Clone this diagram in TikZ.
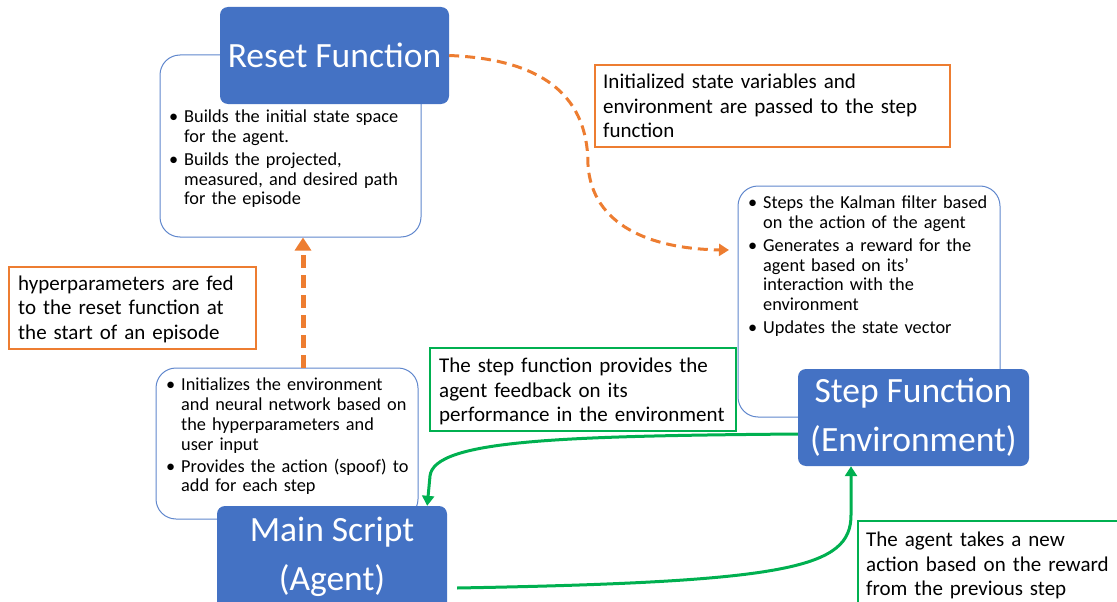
\documentclass[tikz,border=0pt]{standalone}
\usepackage{fontspec}
\setmainfont{Carlito}
\usetikzlibrary{arrows.meta}
\definecolor{pblue}{HTML}{4472C4}
\definecolor{porange}{HTML}{ED7D31}
\definecolor{pgreen}{HTML}{00B050}
\newcommand{\bitem}[1]{\noindent\hangindent=15pt\hangafter=1\makebox[15pt][l]{\textbullet}#1\par}
\tikzset{
  titlebox/.style={fill=pblue, rounded corners=8pt, text=white, align=center, inner sep=0pt,
    font=\fontsize{35.5}{49}\selectfont},
  titletext/.style={text=white, align=center, inner sep=0pt, font=\fontsize{35.5}{49}\selectfont},
  bulbox/.style={draw=pblue!85, fill=white, rounded corners=20pt, line width=1pt, inner sep=0pt},
  obox/.style={draw=porange, fill=white, line width=2pt, inner sep=0pt},
  gbox/.style={draw=pgreen, fill=white, line width=2pt, inner sep=0pt},
  bultext/.style={anchor=north west, inner sep=0pt, text width=#1,
    font=\fontsize{18.3}{19.8}\selectfont},
  anntext/.style={anchor=north west, inner sep=0pt, align=left, text width=#1,
    font=\fontsize{21}{24.4}\selectfont},
  oarrow/.style={draw=porange, line width=3pt, dash pattern=on 10pt off 6pt,
    -{Triangle[length=10pt,width=12pt]}},
  garrow/.style={draw=pgreen, line width=3pt, -{Triangle[length=10pt,width=12pt]}}
}
\begin{document}
\begin{tikzpicture}[x=1pt,y=-1pt]
\useasboundingbox (0,0) rectangle (1117,602);
% bullet boxes
\node[bulbox, minimum width=261pt, minimum height=182pt] (resetbul) at (290.5,146) {};
\node[bulbox, minimum width=262pt, minimum height=231pt] (stepbul) at (869,301.5) {};
\node[bulbox, minimum width=262pt, minimum height=151pt] (mainbul) at (287,443.5) {};
% bullet texts
\node[bultext=250pt] (resett) at (169,109.5) {%
\bitem{Builds the initial state space\newline for the agent.}\vspace{3.3pt}
\bitem{Builds the projected,\newline measured, and desired path\newline for the episode}};
\node[bultext=250pt] (stept) at (748,195.5) {%
\bitem{Steps the Kalman filter based\newline on the action of the agent}\vspace{3.3pt}
\bitem{Generates a reward for the\newline agent based on its’\newline interaction with the\newline environment}\vspace{3.3pt}
\bitem{Updates the state vector}};
\node[bultext=250pt] (maint) at (166,378) {%
\bitem{Initializes the environment\newline and neural network based on\newline the hyperparameters and\newline user input}\vspace{2pt}
\bitem{Provides the action (spoof) to\newline add for each step}};
% title boxes
\node[titlebox, minimum width=229pt, minimum height=97pt] (reset) at (334.5,55.5) {Reset Function};
\node[titlebox, minimum width=231pt, minimum height=97pt] (stepf) at (913.5,417.5) {Step Function\\(Environment)};
\node[titlebox, minimum width=230pt, minimum height=106pt] (mainf) at (332,559) {};
\node[titletext] (mainft) at (332,556.5) {Main Script\\(Agent)};
% annotation boxes
\node[obox, minimum width=355pt, minimum height=82pt] (ann1) at (772.5,106) {};
\node[anntext=345pt] (ann1t) at (603,74) {Initialized state variables and\\environment are passed to the step\\function};
\node[obox, minimum width=247pt, minimum height=82pt] (ann2) at (132.5,308) {};
\node[anntext=240pt] (ann2t) at (18,275.5) {hyperparameters are fed\\to the reset function at\\the start of an episode};
\node[gbox, minimum width=306pt, minimum height=83pt] (ann3) at (583,389.5) {};
\node[anntext=300pt] (ann3t) at (439,358) {The step function provides the\\agent feedback on its\\performance in the environment};
\node[gbox, minimum width=267pt, minimum height=94pt] (ann4) at (991.5,568) {};
\node[anntext=250pt] (ann4t) at (866,532) {The agent takes a new\\action based on the reward\\from the previous step};
% connectors
\coordinate (c1) at (729,250);
\draw[oarrow] (reset.east) .. controls (560,60) and (588,110) .. (588,165)
  .. controls (592,225) and (650,249) .. (c1);
\coordinate (ax) at (303,0);
\draw[draw=porange, line width=5pt, dash pattern=on 13pt off 7pt,
  -{Triangle[length=13pt,width=16pt]}] (ax |- mainbul.north) -- (ax |- resetbul.south);
\draw[garrow] ([yshift=-16.5pt]stepf.west) .. controls (560,436) and (434,440) .. (430,476)
  -- ([xshift=-20pt]mainf.north east);
\draw[garrow] ([xshift=10pt,yshift=-29pt]mainf.east) .. controls (790,582) and (851,568) .. (851,515)
  -- ([xshift=-62.5pt]stepf.south);
\end{tikzpicture}
\end{document}
